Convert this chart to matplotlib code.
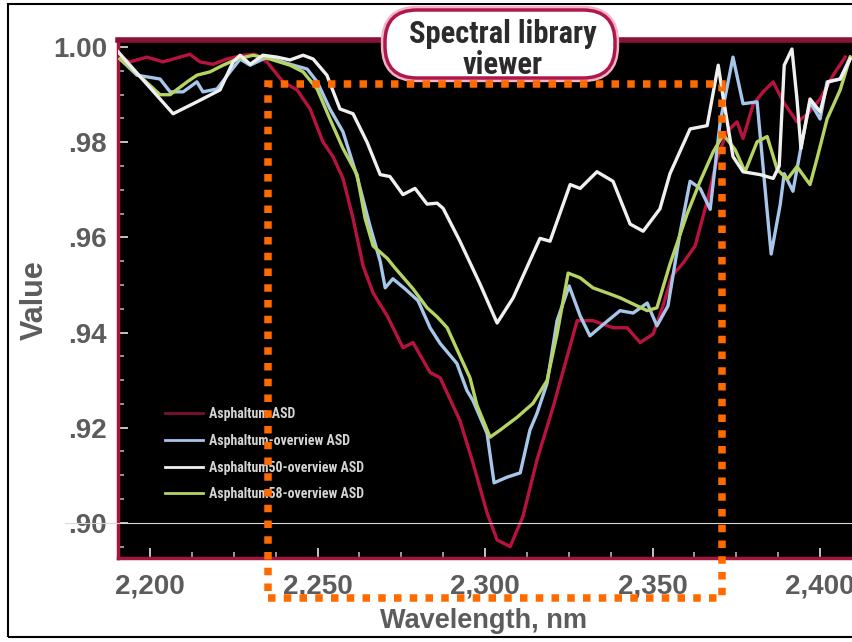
import matplotlib
matplotlib.use("Agg")
import matplotlib.pyplot as plt
from matplotlib import font_manager
from matplotlib.patches import FancyBboxPatch, Rectangle
from matplotlib.transforms import IdentityTransform
from matplotlib.ticker import MultipleLocator, FuncFormatter

# ---------------- spectra (wavelength in nm, reflectance value) ----------------
red_wl = [2191.1, 2194.0, 2199.1, 2203.9, 2211.9, 2214.9, 2218.8, 2223.0, 2227.8, 2231.3,
          2234.9, 2239.7, 2243.9, 2247.8, 2251.6, 2254.6, 2257.6, 2260.6, 2263.6, 2266.6,
          2270.8, 2275.5, 2278.5, 2283.6, 2286.6, 2292.5, 2296.4, 2300.6, 2303.6, 2307.5,
          2311.3, 2315.5, 2320.3, 2327.5, 2332.2, 2338.2, 2342.4, 2346.3, 2350.2, 2353.1,
          2355.8, 2359.1, 2362.7, 2366.3, 2369.3, 2372.2, 2375.2, 2377.0, 2380.0, 2383.0,
          2386.0, 2389.0, 2393.1, 2396.1, 2400.0, 2403.9, 2407.5]
red_val = [0.9979, 0.9969, 0.9979, 0.9969, 0.9985, 0.9969, 0.9964, 0.9975, 0.9983, 0.9985,
           0.9969, 0.9927, 0.9910, 0.9870, 0.9801, 0.9770, 0.9724, 0.9640, 0.9540, 0.9483,
           0.9435, 0.9368, 0.9379, 0.9316, 0.9305, 0.9215, 0.9126, 0.9021, 0.8964, 0.8950,
           0.9013, 0.9132, 0.9243, 0.9425, 0.9425, 0.9410, 0.9410, 0.9379, 0.9397, 0.9456,
           0.9519, 0.9546, 0.9582, 0.9676, 0.9766, 0.9822, 0.9843, 0.9808, 0.9879, 0.9906,
           0.9927, 0.9885, 0.9843, 0.9858, 0.9891, 0.9941, 0.9979]

blue_wl = [2191.1, 2196.1, 2203.0, 2206.0, 2209.9, 2214.0, 2215.8, 2220.0, 2223.9, 2226.9,
           2229.9, 2234.9, 2241.8, 2246.9, 2249.9, 2253.7, 2257.6, 2261.8, 2265.7, 2268.7,
           2270.2, 2272.5, 2276.1, 2280.0, 2283.6, 2286.6, 2291.6, 2294.6, 2296.4, 2300.6,
           2302.7, 2306.6, 2310.5, 2313.4, 2315.5, 2318.5, 2321.5, 2325.1, 2328.4, 2331.3,
           2335.8, 2340.3, 2344.2, 2348.4, 2351.3, 2354.6, 2358.2, 2361.2, 2364.2, 2367.2,
           2370.2, 2374.0, 2377.0, 2381.2, 2384.2, 2385.4, 2388.1, 2389.3, 2391.9, 2394.6,
           2397.0, 2400.0, 2402.1, 2406.0, 2409.0]
blue_val = [0.9975, 0.9941, 0.9933, 0.9906, 0.9906, 0.9927, 0.9906, 0.9912, 0.9948, 0.9975,
            0.9962, 0.9979, 0.9964, 0.9954, 0.9927, 0.9870, 0.9822, 0.9728, 0.9623, 0.9550,
            0.9494, 0.9513, 0.9492, 0.9467, 0.9410, 0.9377, 0.9335, 0.9278, 0.9257, 0.9188,
            0.9084, 0.9096, 0.9105, 0.9195, 0.9230, 0.9293, 0.9425, 0.9498, 0.9435, 0.9393,
            0.9420, 0.9446, 0.9441, 0.9462, 0.9414, 0.9456, 0.9609, 0.9718, 0.9703, 0.9659,
            0.9843, 0.9979, 0.9881, 0.9885, 0.9655, 0.9565, 0.9669, 0.9734, 0.9697, 0.9801,
            0.9885, 0.9849, 0.9927, 0.9933, 0.9979]

white_wl = [2190.5, 2206.9, 2214.0, 2220.9, 2224.8, 2226.9, 2229.9, 2233.7, 2237.9, 2241.8,
            2245.7, 2248.7, 2252.8, 2256.7, 2260.6, 2264.8, 2268.7, 2271.6, 2275.5, 2279.1,
            2282.7, 2285.7, 2287.5, 2292.5, 2298.5, 2303.6, 2308.4, 2316.4, 2319.4, 2325.4,
            2328.4, 2333.4, 2338.2, 2343.3, 2347.2, 2352.2, 2355.2, 2361.2, 2366.3, 2369.6,
            2370.8, 2374.0, 2377.0, 2382.1, 2386.0, 2387.8, 2389.3, 2391.6, 2393.1, 2394.3,
            2397.0, 2400.0, 2402.4, 2406.0, 2409.0]
white_val = [0.9990, 0.9860, 0.9885, 0.9910, 0.9969, 0.9983, 0.9964, 0.9983, 0.9979, 0.9973,
             0.9983, 0.9975, 0.9941, 0.9870, 0.9860, 0.9800, 0.9732, 0.9728, 0.9690, 0.9703,
             0.9670, 0.9672, 0.9661, 0.9592, 0.9502, 0.9420, 0.9473, 0.9598, 0.9592, 0.9711,
             0.9703, 0.9738, 0.9718, 0.9628, 0.9613, 0.9660, 0.9734, 0.9828, 0.9835, 0.9962,
             0.9906, 0.9770, 0.9738, 0.9732, 0.9724, 0.9750, 0.9962, 0.9996, 0.9891, 0.9787,
             0.9891, 0.9864, 0.9927, 0.9933, 0.9975]

green_wl = [2191.1, 2197.9, 2203.0, 2206.0, 2211.1, 2214.0, 2217.9, 2221.8, 2226.0, 2230.8,
            2235.8, 2241.8, 2245.7, 2249.9, 2253.7, 2257.6, 2261.8, 2264.2, 2266.6, 2270.8,
            2273.1, 2278.5, 2282.7, 2285.7, 2288.7, 2292.5, 2295.5, 2297.6, 2301.5, 2304.5,
            2309.6, 2314.3, 2318.5, 2321.5, 2324.8, 2328.4, 2332.2, 2337.3, 2340.3, 2344.2,
            2348.4, 2351.3, 2355.2, 2360.3, 2364.2, 2368.1, 2371.1, 2374.6, 2377.6, 2381.2,
            2384.2, 2387.2, 2390.2, 2393.1, 2397.0, 2399.1, 2402.1, 2406.0, 2409.0]
green_val = [0.9975, 0.9933, 0.9900, 0.9900, 0.9927, 0.9941, 0.9948, 0.9962, 0.9975, 0.9983,
             0.9975, 0.9962, 0.9948, 0.9912, 0.9849, 0.9787, 0.9732, 0.9640, 0.9582, 0.9556,
             0.9536, 0.9492, 0.9452, 0.9433, 0.9410, 0.9351, 0.9305, 0.9247, 0.9180, 0.9195,
             0.9222, 0.9251, 0.9299, 0.9397, 0.9525, 0.9515, 0.9494, 0.9481, 0.9473, 0.9460,
             0.9446, 0.9452, 0.9544, 0.9649, 0.9718, 0.9780, 0.9816, 0.9785, 0.9738, 0.9801,
             0.9812, 0.9743, 0.9722, 0.9749, 0.9711, 0.9766, 0.9849, 0.9910, 0.9979]

series_labels = ["Asphaltum ASD", "Asphaltum-overview ASD",
                 "Asphaltum50-overview ASD", "Asphaltum58-overview ASD"]
title_lines = ["Spectral library", "viewer"]
x_label = "Wavelength, nm"
y_label = "Value"

# font choices: a Helvetica-metric face for the axes, a narrow one for badge/legend
installed = {f.name for f in font_manager.fontManager.ttflist}
axis_family = ["Liberation Sans", "DejaVu Sans"] if "Liberation Sans" in installed \
    else ["DejaVu Sans"]
narrow = None
for cand in ("Liberation Sans Narrow", "DejaVu Sans Condensed", "Roboto Condensed",
             "Open Sans Condensed", "Noto Sans Condensed", "Arial Narrow"):
    if cand in installed:
        narrow = cand
        break
if narrow is not None:
    badge_family, badge_size = [narrow, "DejaVu Sans"], 22
    legend_family = [narrow, "DejaVu Sans"]
else:
    base = "Roboto" if "Roboto" in installed else "DejaVu Sans"
    badge_family, badge_size = [base, "DejaVu Sans"], 18
    legend_family = [base, "DejaVu Sans"]

# ---------------- figure ----------------
W, H = 852, 642
fig = plt.figure(figsize=(W / 100, H / 100), dpi=100)
fig.patch.set_facecolor("white")


def px_box(left, top, right, bottom):
    return [left / W, 1 - bottom / H, (right - left) / W, (bottom - top) / H]


ax = fig.add_axes(px_box(118, 40, 870, 558))
ax.set_facecolor("black")
ax.set_xlim(2190.45, 2414.9)
ax.set_ylim(0.8926, 1.0015)

lw = 2.4
l_red, = ax.plot(red_wl, red_val, color="#b8123f", lw=lw, zorder=3)
l_blue, = ax.plot(blue_wl, blue_val, color="#a6c6ea", lw=lw, zorder=4)
l_green, = ax.plot(green_wl, green_val, color="#b6d464", lw=lw, zorder=5)
l_white, = ax.plot(white_wl, white_val, color="#f0f0f0", lw=lw, zorder=6)

ax.axhline(0.90, xmin=-0.07, xmax=1.0, color="#d8d8d8", lw=0.8, clip_on=False, zorder=7)

# axes frame
crimson = "#a3173f"
for side in ("left", "bottom"):
    ax.spines[side].set_color(crimson)
    ax.spines[side].set_linewidth(2.5)
ax.spines["top"].set_color("#8a1236")
ax.spines["top"].set_linewidth(4.0)
ax.spines["right"].set_visible(False)

# ticks
ax.xaxis.set_major_locator(MultipleLocator(50))
ax.xaxis.set_minor_locator(MultipleLocator(12.5))
ax.yaxis.set_major_locator(MultipleLocator(0.02))
ax.yaxis.set_minor_locator(MultipleLocator(0.005))
ax.xaxis.set_major_formatter(FuncFormatter(lambda v, p: f"{int(round(v)):,}"))
ax.yaxis.set_major_formatter(
    FuncFormatter(lambda v, p: "1.00" if abs(v - 1) < 1e-9 else f"{v:.2f}"[1:]))
ax.tick_params(axis="both", which="major", direction="in", length=7, width=1.4,
               color="#c4c4c4", labelcolor="#5c5c5c", labelsize=20)
ax.tick_params(axis="both", which="minor", direction="in", length=4.5, width=1.2,
               color="#b4b4b4")
ax.tick_params(axis="x", which="major", pad=11)
ax.tick_params(axis="y", which="major", pad=8)
for t in ax.get_xticklabels() + ax.get_yticklabels():
    t.set_fontweight("bold")
    t.set_family(axis_family)

fig.text(35 / W, 1 - 300 / H, y_label, rotation=90, ha="center", va="center",
         fontsize=22, fontweight="bold", color="#5c5c5c", family=axis_family)
fig.text(484 / W, 1 - 621 / H, x_label, ha="center", va="center",
         fontsize=19.5, fontweight="bold", color="#5c5c5c", family=axis_family)

# legend
leg = ax.legend([l_red, l_blue, l_white, l_green], series_labels,
                loc="upper left", bbox_to_anchor=(165 / W, 1 - 407 / H),
                bbox_transform=fig.transFigure, frameon=False,
                prop={"family": legend_family, "size": 10, "weight": "bold"},
                handlelength=2.7, handletextpad=0.5,
                labelspacing=0.92, borderpad=0, borderaxespad=0)
for txt in leg.get_texts():
    txt.set_color("#d4d4d4")
for h in leg.legend_handles:
    h.set_linewidth(2.0)
leg.legend_handles[0].set_color("#7a1030")

# title badge
ident = IdentityTransform()
glow = FancyBboxPatch((385, H - 78), 230, 68,
                      boxstyle="round,pad=0,rounding_size=32",
                      facecolor="white", edgecolor="#f2b4c6", lw=6,
                      transform=ident, zorder=10)
badge = FancyBboxPatch((385, H - 78), 230, 68,
                       boxstyle="round,pad=0,rounding_size=32",
                       facecolor="white", edgecolor="#b0184a", lw=2.5,
                       transform=ident, zorder=11)
fig.patches.extend([glow, badge])
fig.text(503 / W, 1 - 43 / H, title_lines[0], ha="center", va="baseline",
         fontsize=badge_size, fontweight="bold", color="#2b2b2b",
         family=badge_family, zorder=12)
fig.text(503 / W, 1 - 74 / H, title_lines[1], ha="center", va="baseline",
         fontsize=badge_size, fontweight="bold", color="#2b2b2b",
         family=badge_family, zorder=12)

# highlighted wavelength window
window = Rectangle((268, H - 598), 454, 514, fill=False, edgecolor="#ff6a00",
                   lw=5.4, linestyle=(0, (1, 1.1)), transform=ident, zorder=13)
fig.patches.append(window)

# outer frame
frame = Rectangle((8, 5), 900, 633, fill=False, edgecolor="black", lw=1.5,
                  transform=ident, zorder=14)
fig.patches.append(frame)

fig.savefig("out.png", dpi=100, facecolor=fig.get_facecolor())
